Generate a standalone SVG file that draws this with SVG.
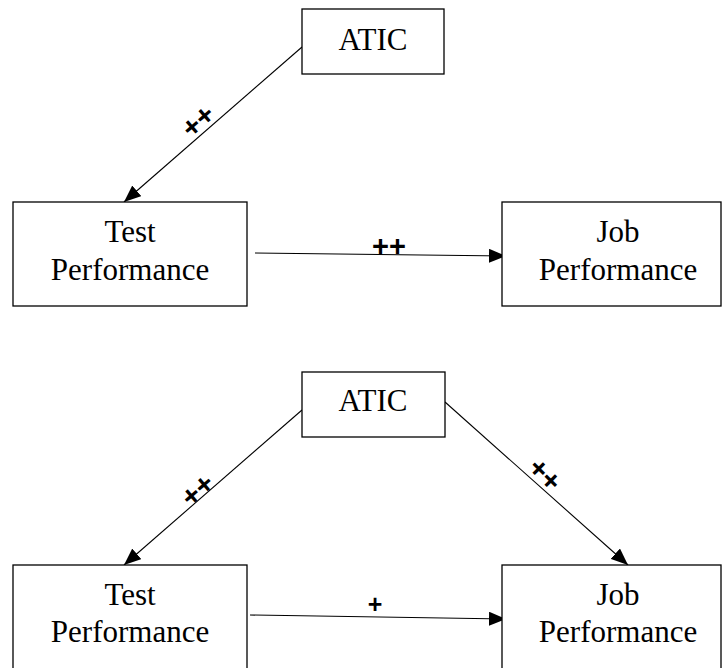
<svg xmlns="http://www.w3.org/2000/svg" width="722" height="668" viewBox="0 0 722 668">
<defs>
<style>
.box{fill:#fff;stroke:#000;stroke-width:1.3}
.t{font-family:"Liberation Serif","Times New Roman",serif;font-size:31px;text-anchor:middle;fill:#000}
.c{stroke:#000;stroke-width:1.1;fill:none}
.p{font-family:"Liberation Sans",Arial,sans-serif;font-weight:bold;text-anchor:middle;fill:#000}
</style>
<marker id="ah" markerWidth="17" markerHeight="14" refX="17" refY="7" orient="auto" markerUnits="userSpaceOnUse"><path d="M0,0 L17,7 L0,14 z" fill="#000"/></marker>
</defs>
<rect width="722" height="668" fill="#fff"/>
<g id="connectors">
<line class="c" x1="302" y1="47" x2="124" y2="202" marker-end="url(#ah)"/>
<line class="c" x1="255" y1="253" x2="506" y2="256" marker-end="url(#ah)"/>
<line class="c" x1="302" y1="410" x2="124" y2="565" marker-end="url(#ah)"/>
<line class="c" x1="445" y1="402" x2="628" y2="565" marker-end="url(#ah)"/>
<line class="c" x1="250" y1="615" x2="506" y2="619" marker-end="url(#ah)"/>
<text class="p" font-size="29" transform="translate(198,121) rotate(-41)" y="10">++</text>
<text class="p" font-size="29" x="389" y="255.5">++</text>
<text class="p" font-size="29" transform="translate(197.5,490) rotate(-41)" y="10">++</text>
<text class="p" font-size="29" transform="translate(545,474.5) rotate(45)" y="10">++</text>
<text class="p" font-size="25" x="375" y="612.5">+</text>
</g>
<g id="atic1"><rect class="box" x="302" y="9" width="142" height="65"/><text class="t" x="373" y="50">ATIC</text></g>
<g id="test1"><rect class="box" x="13" y="202" width="234" height="104"/><text class="t" x="130" y="242">Test</text><text class="t" x="130" y="280">Performance</text></g>
<g id="job1"><rect class="box" x="502" y="202" width="219" height="104"/><text class="t" x="618" y="242">Job</text><text class="t" x="618" y="280">Performance</text></g>
<g id="atic2"><rect class="box" x="302" y="372" width="143" height="65"/><text class="t" x="373" y="411">ATIC</text></g>
<g id="test2"><rect class="box" x="13" y="565" width="234" height="110"/><text class="t" x="130" y="605">Test</text><text class="t" x="130" y="642">Performance</text></g>
<g id="job2"><rect class="box" x="502" y="565" width="219" height="110"/><text class="t" x="618" y="605">Job</text><text class="t" x="618" y="642">Performance</text></g>
</svg>
